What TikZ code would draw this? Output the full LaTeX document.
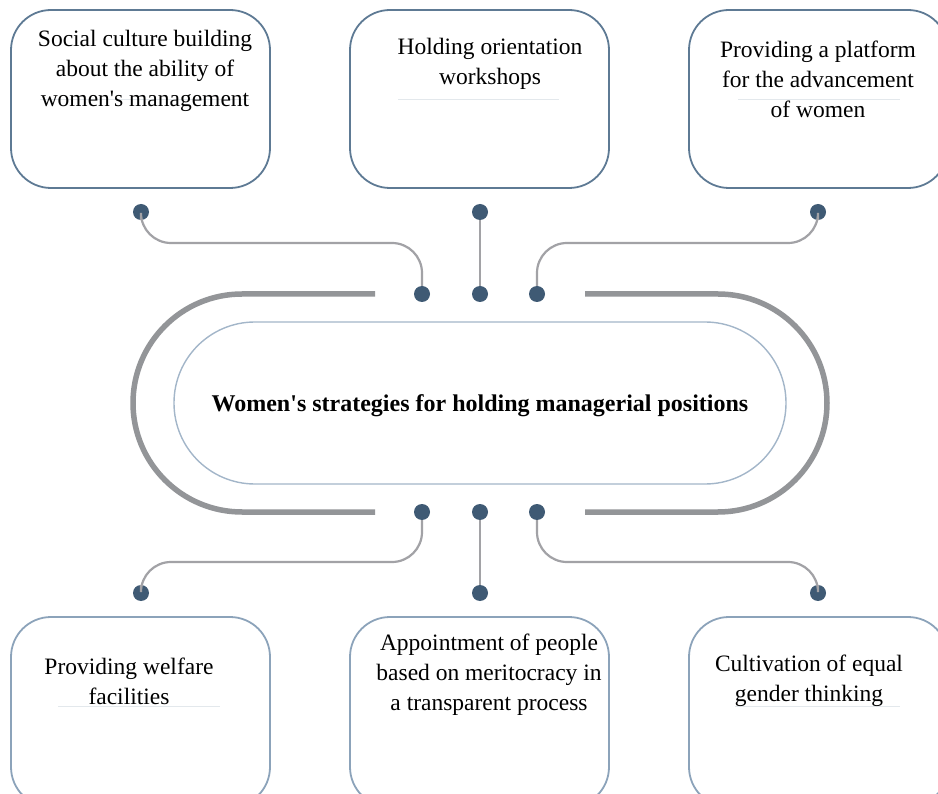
\documentclass[tikz,border=0pt]{standalone}
\usepackage{fontspec}
\setmainfont{Liberation Serif}
\definecolor{boxA}{HTML}{5E7A94}
\definecolor{boxB}{HTML}{8CA3BA}
\definecolor{ringc}{HTML}{939598}
\definecolor{innerc}{HTML}{A3B6C9}
\definecolor{dotc}{HTML}{3F5A74}
\definecolor{wirec}{HTML}{A2A2A6}
\definecolor{faint}{HTML}{E3E8EC}
\begin{document}
\begin{tikzpicture}[x=1pt,y=-1pt,
  topbox/.style={draw=boxA, line width=1.8pt, rounded corners=40pt, minimum width=259pt, minimum height=178pt, inner sep=0pt},
  botbox/.style={draw=boxB, line width=1.8pt, rounded corners=40pt, minimum width=259pt, minimum height=190pt, inner sep=0pt},
  lbl/.style={align=center, font=\fontsize{23.5}{30}\selectfont, inner sep=0pt},
  dotn/.style={circle, fill=dotc, inner sep=0pt, minimum size=16pt},
  wire/.style={draw=wirec, line width=2.2pt, rounded corners=30pt},
  ring/.style={draw=ringc, line width=5.5pt},
  faintline/.style={draw=faint, line width=0.8pt}]
\clip (0,0) rectangle (938,794);
\fill[white] (0,0) rectangle (938,794);
% top boxes
\node[topbox] (b1) at (140.5,99) {};
\node[topbox] (b2) at (479.5,99) {};
\node[topbox] (b3) at (818.5,99) {};
% bottom boxes
\node[botbox] (b4) at (140.5,712) {};
\node[botbox] (b5) at (479.5,712) {};
\node[botbox] (b6) at (818.5,712) {};
% faint lines
\draw[faintline] (40,99) -- (250,99);
\draw[faintline] (398,99) -- (559,99);
\draw[faintline] (738,99) -- (900,99);
\draw[faintline] (58,706) -- (220,706);
\draw[faintline] (735,706) -- (900,706);
% labels
\node[lbl] (t1) at (145,71) {Social culture building\\about the ability of\\women\textquotesingle s management};
\node[lbl] (t2) at (490,64) {Holding orientation\\workshops};
\node[lbl] (t3) at (818,79) {Providing a platform\\for the advancement\\of women};
\node[lbl] (t4) at (129,681) {Providing welfare\\facilities};
\node[lbl] (t5) at (489,675) {Appointment of people\\based on meritocracy in\\a transparent process};
\node[lbl] (t6) at (809,681) {Cultivation of equal\\gender thinking};
% center ring
\draw[ring, rounded corners=109pt] (375,294) -- (133,294) -- (133,512) -- (375,512);
\draw[ring, rounded corners=109pt] (585,294) -- (827,294) -- (827,512) -- (585,512);
\node[draw=innerc, line width=1.4pt, rounded corners=80.9pt, minimum width=612pt, minimum height=162pt, inner sep=0pt] (c) at (480,403) {};
\node[font=\bfseries\fontsize{24}{28}\selectfont, inner sep=0pt] (ct) at (c.center) [yshift=-3pt] {Women\textquotesingle s strategies for holding managerial positions};
% dots
\node[dotn] (d1) at (141,212) {};
\node[dotn] (d2) at (480,212) {};
\node[dotn] (d3) at (818,212) {};
\node[dotn] (d4) at (422,294) {};
\node[dotn] (d5) at (480,294) {};
\node[dotn] (d6) at (537,294) {};
\node[dotn] (d7) at (422,512) {};
\node[dotn] (d8) at (480,512) {};
\node[dotn] (d9) at (537,512) {};
\node[dotn] (d10) at (141,593) {};
\node[dotn] (d11) at (480,593) {};
\node[dotn] (d12) at (818,593) {};
\coordinate (h1) at (422,243);
\coordinate (h3) at (537,243);
\coordinate (h4) at (141,562);
\coordinate (h6) at (818,562);
% wires
\draw[wire] (d1.south) |- (h1) -- (d4.north);
\draw[wire] (d2.south) -- (d5.north);
\draw[wire] (d3.south) |- (h3) -- (d6.north);
\draw[wire] (d7.south) |- (h4) -- (d10.north);
\draw[wire] (d8.south) -- (d11.north);
\draw[wire] (d9.south) |- (h6) -- (d12.north);
\end{tikzpicture}
\end{document}
